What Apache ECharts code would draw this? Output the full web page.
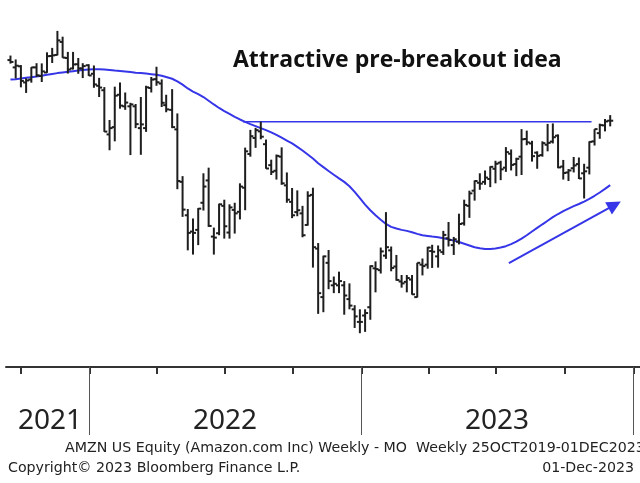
<!DOCTYPE html>
<html>
<head>
<meta charset="utf-8">
<script src="https://cdn.jsdelivr.net/npm/echarts@6/dist/echarts.min.js"></script>
<style>
html,body{margin:0;padding:0;background:#fff}
#main{width:640px;height:483px}
</style>
</head>
<body>
<div id="main"></div>
<script>
// weekly bars (friday dates)
var weeks = [
 '2021-09-17','2021-09-24','2021-10-01','2021-10-08','2021-10-15','2021-10-22','2021-10-29','2021-11-05','2021-11-12','2021-11-19','2021-11-26','2021-12-03','2021-12-10','2021-12-17','2021-12-23','2021-12-31',
 '2022-01-07','2022-01-14','2022-01-21','2022-01-28','2022-02-04','2022-02-11','2022-02-18','2022-02-25','2022-03-04','2022-03-11','2022-03-18','2022-03-25','2022-04-01','2022-04-08','2022-04-14','2022-04-22','2022-04-29','2022-05-06','2022-05-13','2022-05-20','2022-05-27','2022-06-03','2022-06-10','2022-06-17','2022-06-24','2022-07-01','2022-07-08','2022-07-15','2022-07-22','2022-07-29','2022-08-05','2022-08-12','2022-08-19','2022-08-26','2022-09-02','2022-09-09','2022-09-16','2022-09-23','2022-09-30','2022-10-07','2022-10-14','2022-10-21','2022-10-28','2022-11-04','2022-11-11','2022-11-18','2022-11-25','2022-12-02','2022-12-09','2022-12-16','2022-12-23','2022-12-30',
 '2023-01-06','2023-01-13','2023-01-20','2023-01-27','2023-02-03','2023-02-10','2023-02-17','2023-02-24','2023-03-03','2023-03-10','2023-03-17','2023-03-24','2023-03-31','2023-04-06','2023-04-14','2023-04-21','2023-04-28','2023-05-05','2023-05-12','2023-05-19','2023-05-26','2023-06-02','2023-06-09','2023-06-16','2023-06-23','2023-06-30','2023-07-07','2023-07-14','2023-07-21','2023-07-28','2023-08-04','2023-08-11','2023-08-18','2023-08-25','2023-09-01','2023-09-08','2023-09-15','2023-09-22','2023-09-29','2023-10-06','2023-10-13','2023-10-20','2023-10-27','2023-11-03','2023-11-10','2023-11-17','2023-11-24','2023-12-01'
];
var opens = [
 174.0,170.5,171.0,163.5,164.8,170.5,166.5,168.1,176.0,176.5,183.0,175.0,170.0,172.0,170.0,171.5,
 167.5,162.0,160.0,141.5,144.4,158.0,153.0,153.0,153.0,144.0,144.0,161.0,165.0,163.0,153.5,151.5,143.5,124.0,113.0,108.0,108.5,117.0,124.5,106.5,107.5,116.0,107.7,114.7,114.1,122.0,134.0,140.1,142.7,137.7,129.9,127.9,133.0,122.8,117.3,114.0,113.6,110.0,119.6,103.0,90.0,99.0,93.0,93.0,93.0,89.5,87.0,84.0,
 85.5,87.5,97.5,97.0,101.0,102.5,98.0,94.0,93.9,94.5,90.0,98.5,98.5,102.3,100.8,102.0,106.0,104.0,105.0,110.5,116.0,121.0,123.7,124.0,125.0,128.6,130.8,129.0,134.1,130.3,133.0,139.7,138.0,134.5,133.6,137.5,138.7,141.0,129.4,127.3,128.8,130.3,127.0,129.0,138.8,142.0,145.1,147.0
];
var highs = [
 176.2,174.3,171.6,165.4,170.6,172.5,172.4,177.8,180.0,188.7,185.7,178.0,178.0,175.0,172.5,172.0,
 171.4,165.6,161.4,147.3,161.6,163.5,159.0,154.5,154.0,157.0,162.0,166.0,170.8,164.9,158.0,160.5,150.0,126.0,115.0,112.0,115.3,127.0,129.0,109.2,116.7,118.0,116.5,117.0,123.5,136.4,143.3,144.1,146.6,139.5,131.9,133.8,136.5,127.3,121.9,121.1,116.0,120.8,122.0,104.6,101.0,102.6,95.3,96.6,94.1,93.5,88.0,87.0,
 87.0,98.3,99.4,103.3,114.0,103.6,101.2,95.7,95.7,95.7,99.0,100.2,103.5,104.1,103.9,108.2,110.9,106.4,113.5,118.0,121.0,124.5,127.0,128.0,129.5,131.5,131.5,136.6,135.7,132.6,143.6,143.0,139.0,135.0,138.8,145.7,145.9,141.5,131.8,128.5,132.9,132.7,130.4,138.8,143.6,145.8,147.7,149.3
];
var lows = [
 172.3,165.3,161.3,158.8,163.4,166.0,163.7,167.9,172.6,176.3,175.1,167.6,169.5,167.5,165.5,166.5,
 161.1,157.0,142.5,135.4,138.8,152.0,151.5,133.6,144.0,133.7,142.5,159.0,162.0,152.7,150.5,144.0,121.5,112.5,102.5,101.3,104.0,114.5,109.4,101.3,106.9,105.9,105.9,107.4,111.7,114.6,133.0,136.3,139.6,128.6,126.4,124.8,123.0,117.0,112.1,112.7,106.3,109.8,97.7,85.9,86.3,92.0,91.0,91.0,85.7,87.0,82.6,81.4,
 81.7,84.5,91.2,96.1,100.1,96.7,94.2,92.4,91.2,90.6,89.9,95.6,97.4,97.6,97.7,101.2,103.6,101.2,104.2,109.8,112.2,117.7,121.3,123.0,122.2,123.5,124.6,127.5,128.0,126.0,126.4,137.3,131.2,128.6,133.0,135.0,138.0,128.8,124.8,124.3,127.3,125.0,118.4,126.6,137.2,139.8,142.7,144.7
];
var closes = [
 173.1,171.3,164.2,164.4,170.5,166.8,168.6,175.9,176.3,183.8,175.2,169.5,171.9,170.0,171.1,166.7,
 162.6,161.2,142.6,144.0,157.6,153.3,154.6,153.8,145.6,145.5,161.3,164.8,163.6,154.5,151.7,144.4,124.3,114.8,107.6,107.6,115.1,122.4,109.7,106.2,116.5,109.6,115.5,113.6,122.4,135.0,140.8,143.2,140.6,128.7,127.5,133.3,123.5,118.0,113.0,114.6,106.9,119.3,103.4,91.0,100.8,94.1,93.4,94.1,90.4,87.9,85.3,84.0,
 86.1,98.1,97.3,102.2,103.4,97.6,94.4,93.5,94.9,90.7,99.0,98.1,103.3,102.1,102.5,107.0,105.5,105.7,110.3,116.3,120.1,124.3,123.4,125.5,129.3,130.4,128.4,134.7,130.0,132.2,139.6,138.4,133.2,133.3,138.1,138.2,140.4,129.1,127.1,128.0,129.8,125.2,127.7,138.6,143.6,145.2,146.7,147.0
];
// moving average (blue curve)
var movAvg = [
 164.8,165.0,165.3,165.6,165.9,166.2,166.6,167.0,167.4,167.8,168.1,168.4,168.7,169.0,169.3,169.5,
 169.6,169.6,169.5,169.3,169.0,168.8,168.6,168.3,168.0,167.8,167.6,167.3,167.0,166.6,166.0,165.2,164.0,162.5,160.8,159.4,
 158.3,157.0,155.4,153.8,152.3,151.0,149.8,148.6,147.5,146.5,145.6,144.8,144.0,143.2,
 142.3,141.3,140.2,139.1,138.0,136.7,135.3,133.8,132.3,130.6,129.2,127.8,126.5,125.2,124.0,122.5,120.6,118.5,
 116.4,114.6,113.0,111.6,110.3,109.4,108.9,108.5,108.2,107.8,107.3,106.9,106.7,106.5,106.3,106.0,105.7,105.3,104.9,104.4,103.9,103.4,103.1,102.9,102.9,103.0,103.3,103.7,104.3,105.0,105.9,106.9,108.0,109.1,110.2,111.3,112.4,113.4,114.3,115.1,115.9,116.6,117.4,118.3,119.3,120.4,121.6,122.9
];
// annotations
var resistDates = ['2022-07-26', '2023-11-06'];
var resistLevel = 146.6;
var arrowDates = ['2023-07-18', '2023-12-07'];
var arrowValues = [98.9, 116.3];
// axis
var quarterTicks = ['2021-10-01','2022-01-01','2022-04-01','2022-07-01','2022-10-01','2023-01-01','2023-04-01','2023-07-01','2023-10-01','2024-01-01'];
var yearTicks = ['2022-01-01','2023-01-01','2024-01-01'];
var yearLabelDates = ['2021-11-09','2022-07-02','2023-07-02'];

var blue = '#3636e8';
var barColor = '#1e1e1e';

function toTime(s){
	var p = s.split('-');
	return new Date(+p[0], +p[1]-1, +p[2]).getTime();
}

var ohlc = [];
var maData = [];
for(var i=0; i<weeks.length; i++){
	var t = toTime(weeks[i]);
	ohlc.push([t, opens[i], highs[i], lows[i], closes[i]]);
	maData.push([t, movAvg[i]]);
}

function renderBar(params, api){
	var t = api.value(0);
	var o = api.coord([t, api.value(1)]);
	var h = api.coord([t, api.value(2)]);
	var l = api.coord([t, api.value(3)]);
	var c = api.coord([t, api.value(4)]);
	var st = {stroke: barColor, lineWidth: 2};
	return {
		type: 'group',
		children: [
			{type: 'line', shape: {x1: h[0], y1: h[1], x2: l[0], y2: l[1]}, style: st},
			{type: 'line', shape: {x1: o[0]-3, y1: o[1], x2: o[0], y2: o[1]}, style: st},
			{type: 'line', shape: {x1: c[0], y1: c[1], x2: c[0]+3, y2: c[1]}, style: st}
		]
	};
}

var xMin = toTime('2021-09-11');
var xMax = toTime('2024-01-10');
var footStyle = {fontFamily: 'DejaVu Sans', fontSize: 14.2, fill: '#222'};

var myChart = echarts.init(document.getElementById('main'));
var option = {
	animation: false,
	grid: {left: 6, right: 0, top: 10, bottom: 116},
	xAxis: [
		{
			type: 'value',
			min: xMin,
			max: xMax,
			position: 'bottom',
			axisLine: {show: true, lineStyle: {color: '#333', width: 2}},
			axisTick: {show: true, customValues: quarterTicks.map(toTime), length: 7, lineStyle: {color: '#333', width: 2}},
			axisLabel: {show: false},
			splitLine: {show: false}
		},
		{
			type: 'value',
			min: xMin,
			max: xMax,
			position: 'bottom',
			axisLine: {show: false},
			axisTick: {show: true, customValues: yearTicks.map(toTime), length: 68, lineStyle: {color: '#555', width: 1}},
			axisLabel: {
				show: true,
				customValues: yearLabelDates.map(toTime),
				formatter: function (v){ return String(new Date(v).getFullYear()); },
				margin: 40,
				fontSize: 28,
				fontFamily: 'Noto Sans',
				color: '#222'
			},
			splitLine: {show: false}
		}
	],
	yAxis: {
		type: 'log',
		logBase: 10,
		min: 74.1,
		max: 200,
		show: false
	},
	series: [
		{
			type: 'line',
			data: maData,
			showSymbol: false,
			lineStyle: {color: blue, width: 2},
			z: 2
		},
		{
			type: 'line',
			data: [[toTime(resistDates[0]), resistLevel], [toTime(resistDates[1]), resistLevel]],
			showSymbol: false,
			lineStyle: {color: blue, width: 1.5},
			z: 2
		},
		{
			type: 'custom',
			renderItem: renderBar,
			encode: {x: 0, y: [1, 2, 3, 4]},
			data: ohlc,
			z: 3
		},
		{
			type: 'lines',
			coordinateSystem: 'cartesian2d',
			symbol: ['none', 'triangle'],
			symbolSize: 14,
			lineStyle: {color: blue, width: 2, opacity: 1},
			data: [{coords: [[toTime(arrowDates[0]), arrowValues[0]], [toTime(arrowDates[1]), arrowValues[1]]]}],
			z: 2
		}
	],
	graphic: [
		{type: 'text', left: 233, top: 49, style: {text: 'Attractive pre-breakout idea', fontFamily: 'Open Sans', fontWeight: 'bold', fontSize: 23, fill: '#111'}},
		{type: 'text', left: 65, top: 441, style: echarts.util.extend({text: 'AMZN US Equity (Amazon.com Inc) Weekly - MO  Weekly 25OCT2019-01DEC2023'}, footStyle)},
		{type: 'text', left: 8, top: 461, style: echarts.util.extend({text: 'Copyright\u00a9 2023 Bloomberg Finance L.P.'}, footStyle)},
		{type: 'text', right: 6, top: 461, style: echarts.util.extend({text: '01-Dec-2023'}, footStyle)}
	]
};
myChart.setOption(option);
</script>
</body>
</html>
